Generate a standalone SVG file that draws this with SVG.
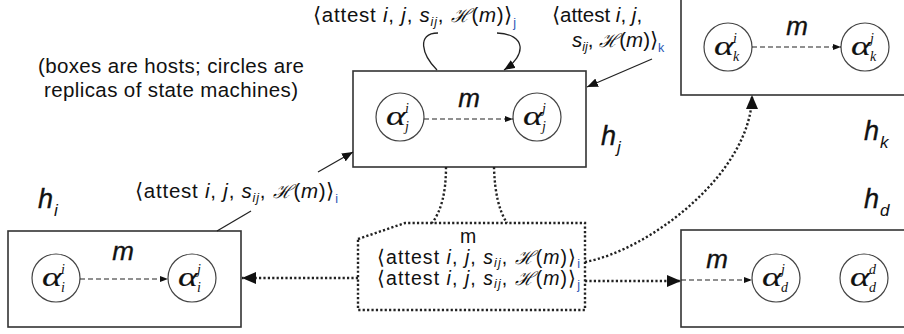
<svg xmlns="http://www.w3.org/2000/svg" width="904" height="334" viewBox="0 0 904 334">
<style>
.host{fill:#fff;stroke:#333;stroke-width:1.6}
.rep{fill:#fff;stroke:#444;stroke-width:1.2}
.dash{fill:none;stroke:#222;stroke-width:1.2;stroke-dasharray:5 3}
.dot{fill:none;stroke:#222;stroke-width:2.4;stroke-dasharray:2.2 2.2}
.sol{fill:none;stroke:#222;stroke-width:1.3}
.lbl{font-family:"Liberation Sans",Arial,sans-serif;font-size:20.5px;fill:#111}
.lbl2{font-family:"Liberation Sans",Arial,sans-serif;font-size:19.5px;fill:#111}
.it{font-style:italic}
.sub{font-size:12.5px;font-style:italic}
.blue{font-size:12.5px;fill:#2b55b5}
.H{font-family:"DejaVu Serif",serif;font-style:italic;font-size:18.5px}
.alpha{font-family:"Liberation Serif","Times New Roman",serif;font-style:italic;font-size:28px;fill:#111;stroke:#111;stroke-width:0.15}
.asc{font-family:"Liberation Serif","Times New Roman",serif;font-style:italic;font-size:14px;fill:#111}
.m{font-family:"Liberation Sans",Arial,sans-serif;font-style:italic;font-size:26px;fill:#111;stroke:#111;stroke-width:0.35}
.h{font-family:"Liberation Sans",Arial,sans-serif;font-style:italic;font-size:27px;fill:#111;stroke:#111;stroke-width:0.35}
.hs{font-family:"Liberation Sans",Arial,sans-serif;font-style:italic;font-size:17px;fill:#111}
.cap{font-family:"Liberation Sans",Arial,sans-serif;font-size:20.5px;fill:#111;text-anchor:middle}
</style>
<defs>
<marker id="big" markerUnits="userSpaceOnUse" viewBox="0 0 14 12" markerWidth="14" markerHeight="12" refX="14" refY="6" orient="auto"><path d="M0,0 L14,6 L0,12 z" fill="#111"/></marker>
<marker id="mid" markerUnits="userSpaceOnUse" viewBox="0 0 11 9" markerWidth="11" markerHeight="9" refX="11" refY="4.5" orient="auto"><path d="M0,0 L11,4.5 L0,9 z" fill="#111"/></marker>
<marker id="sm" markerUnits="userSpaceOnUse" viewBox="0 0 8 6" markerWidth="8" markerHeight="6" refX="8" refY="3" orient="auto"><path d="M0,0 L8,3 L0,6 z" fill="#111"/></marker>
</defs>

<text class="cap" x="171" y="73" textLength="266">(boxes are hosts; circles are</text>
<text class="cap" x="171" y="97" textLength="254">replicas of state machines)</text>

<g id="host-i">
<rect class="host" x="8" y="231" width="233" height="96"/>
<circle class="rep" cx="56" cy="278" r="24"/>
<circle class="rep" cx="192" cy="278" r="24"/>
<text class="alpha" transform="translate(42,286) scale(1.35,1)">α</text><text class="asc" x="61" y="274">i</text><text class="asc" x="61" y="292">i</text>
<text class="alpha" transform="translate(178,286) scale(1.35,1)">α</text><text class="asc" x="197" y="274">j</text><text class="asc" x="197" y="292">i</text>
<path class="dash" d="M80,279 L168,279" marker-end="url(#sm)"/>
<text class="m" x="123" y="260" text-anchor="middle">m</text>
<text class="h" x="38" y="208">h</text><text class="hs" x="54" y="216">i</text>
</g>

<g id="host-j">
<rect class="host" x="353" y="71" width="233" height="96"/>
<circle class="rep" cx="400" cy="117" r="24"/>
<circle class="rep" cx="537" cy="117" r="24"/>
<text class="alpha" transform="translate(386,125) scale(1.35,1)">α</text><text class="asc" x="405" y="113">i</text><text class="asc" x="405" y="131">j</text>
<text class="alpha" transform="translate(523,125) scale(1.35,1)">α</text><text class="asc" x="542" y="113">j</text><text class="asc" x="542" y="131">j</text>
<path class="dash" d="M424,119 L513,119" marker-end="url(#sm)"/>
<text class="m" x="469" y="107" text-anchor="middle">m</text>
<text class="h" x="601" y="145">h</text><text class="hs" x="617" y="153">j</text>
</g>

<g id="host-k">
<rect class="host" x="681" y="-10" width="240" height="105"/>
<circle class="rep" cx="728" cy="47" r="24"/>
<circle class="rep" cx="865" cy="47" r="24"/>
<text class="alpha" transform="translate(714,55) scale(1.35,1)">α</text><text class="asc" x="733" y="43">i</text><text class="asc" x="733" y="61">k</text>
<text class="alpha" transform="translate(851,55) scale(1.35,1)">α</text><text class="asc" x="870" y="43">j</text><text class="asc" x="870" y="61">k</text>
<path class="dash" d="M752,47 L841,47" marker-end="url(#sm)"/>
<text class="m" x="797" y="35" text-anchor="middle">m</text>
<text class="h" x="864" y="140">h</text><text class="hs" x="880" y="148">k</text>
</g>

<g id="host-d">
<rect class="host" x="681" y="230" width="240" height="97"/>
<circle class="rep" cx="776" cy="278" r="24"/>
<circle class="rep" cx="864" cy="278" r="24"/>
<text class="alpha" transform="translate(762,286) scale(1.35,1)">α</text><text class="asc" x="781" y="274">j</text><text class="asc" x="781" y="292">d</text>
<text class="alpha" transform="translate(850,286) scale(1.35,1)">α</text><text class="asc" x="869" y="274">d</text><text class="asc" x="869" y="292">d</text>
<text class="m" x="717" y="268" text-anchor="middle">m</text>
<text class="h" x="864" y="208">h</text><text class="hs" x="880" y="216">d</text>
</g>

<g id="message">
<polygon class="dot" points="358,239 405,223 585,223 585,310 358,310"/>
<text class="lbl2" x="468" y="243" text-anchor="middle">m</text>
<text class="lbl2" x="377" y="264" textLength="203">⟨attest <tspan class="it">i</tspan>, <tspan class="it">j</tspan>, <tspan class="it">s</tspan><tspan class="sub" dy="3">ij</tspan><tspan dy="-3">, </tspan><tspan class="H">ℋ</tspan>(<tspan class="it">m</tspan>)⟩<tspan class="blue" dy="4">i</tspan></text>
<text class="lbl2" x="377" y="285" textLength="203">⟨attest <tspan class="it">i</tspan>, <tspan class="it">j</tspan>, <tspan class="it">s</tspan><tspan class="sub" dy="3">ij</tspan><tspan dy="-3">, </tspan><tspan class="H">ℋ</tspan>(<tspan class="it">m</tspan>)⟩<tspan class="blue" dy="4">j</tspan></text>
</g>

<g id="labels">
<text class="lbl" x="313" y="22" textLength="203">⟨attest <tspan class="it">i</tspan>, <tspan class="it">j</tspan>, <tspan class="it">s</tspan><tspan class="sub" dy="4">ij</tspan><tspan dy="-4">, </tspan><tspan class="H">ℋ</tspan>(<tspan class="it">m</tspan>)⟩<tspan class="blue" dy="5">j</tspan></text>
<text class="lbl" x="552" y="22">⟨attest <tspan class="it">i</tspan>, <tspan class="it">j</tspan>,</text>
<text class="lbl" x="572" y="47"><tspan class="it">s</tspan><tspan class="sub" dy="4">ij</tspan><tspan dy="-4">, </tspan><tspan class="H">ℋ</tspan>(<tspan class="it">m</tspan>)⟩<tspan class="blue" dy="5">k</tspan></text>
<text class="lbl" x="135" y="198" textLength="203">⟨attest <tspan class="it">i</tspan>, <tspan class="it">j</tspan>, <tspan class="it">s</tspan><tspan class="sub" dy="4">ij</tspan><tspan dy="-4">, </tspan><tspan class="H">ℋ</tspan>(<tspan class="it">m</tspan>)⟩<tspan class="blue" dy="5">i</tspan></text>
</g>

<g id="connectors">
<path class="sol" d="M437,70 C422,55 416,33 438,33"/>
<path class="sol" d="M497,33 C526,34 527,55 504,70" marker-end="url(#mid)"/>
<path class="sol" d="M652,59 L587,87" marker-end="url(#mid)"/>
<path class="sol" d="M217,231 L251,211"/>
<path class="sol" d="M318,172 L353,152" marker-end="url(#mid)"/>
<path class="dot" d="M446,167 Q446,205 432,223"/>
<path class="dot" d="M494,167 Q495,205 507,223"/>
<path class="dot" d="M358,278 L242,278" marker-end="url(#big)"/>
<path class="dot" d="M585,262 C650,250 752,172 752,95" marker-end="url(#big)"/>
<path class="dot" d="M585,281 L681,281" marker-end="url(#big)"/>
<path class="dash" d="M681,280 L752,280" marker-end="url(#sm)"/>
</g>
</svg>
